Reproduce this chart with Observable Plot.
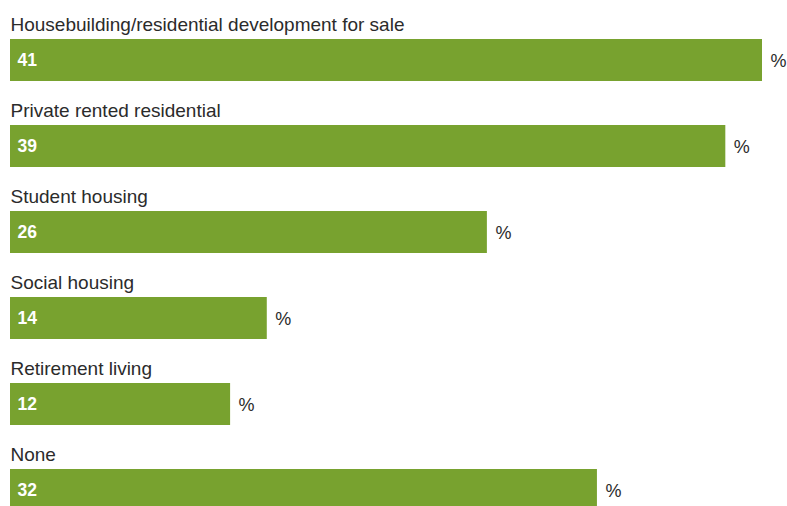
<!DOCTYPE html>
<html>
<head>
<meta charset="utf-8">
<script src="https://cdn.jsdelivr.net/npm/d3@7"></script>
<script src="https://cdn.jsdelivr.net/npm/@observablehq/plot@0.6"></script>
<style>
  html, body { margin: 0; padding: 0; background: #fff; }
  #chart svg { display: block; }
</style>
</head>
<body>
<div id="chart"></div>
<script>
const categories = [
  "Housebuilding/residential development for sale",
  "Private rented residential",
  "Student housing",
  "Social housing",
  "Retirement living",
  "None"
];
const values = [41, 39, 26, 14, 12, 32];

const data = categories.map((c, i) => ({category: c, value: values[i]}));

const chart = Plot.plot({
  width: 787,
  height: 506,
  marginTop: 0,
  marginBottom: 0,
  marginLeft: 0,
  marginRight: 0,
  style: {fontFamily: "'Liberation Sans', Arial, sans-serif", background: "#fff"},
  x: {domain: [0, 41], range: [10, 762], axis: null},
  y: {type: "band", domain: categories, range: [0, 516], padding: 0, axis: null},
  marks: [
    Plot.barX(data, {x: "value", y: "category", fill: "#78a22f", insetTop: 39, insetBottom: 5}),
    Plot.text(data, {x: 0, y: "category", text: "category", textAnchor: "start", dx: 0, dy: -18.1,
      fontSize: 19, fill: "#2b2b2b"}),
    Plot.text(data, {x: 0, y: "category", text: d => String(d.value), textAnchor: "start", dx: 7, dy: 17,
      fontSize: 17.5, fontWeight: "bold", fill: "#fff",
      fontFamily: "'Liberation Sans Narrow', 'Arial Narrow', 'Liberation Sans', sans-serif"}),
    Plot.text(data, {x: "value", y: "category", text: () => "%", textAnchor: "start", dx: 8, dy: 18,
      fontSize: 18, fill: "#2b2b2b"})
  ]
});
document.getElementById("chart").appendChild(chart);
</script>
</body>
</html>
